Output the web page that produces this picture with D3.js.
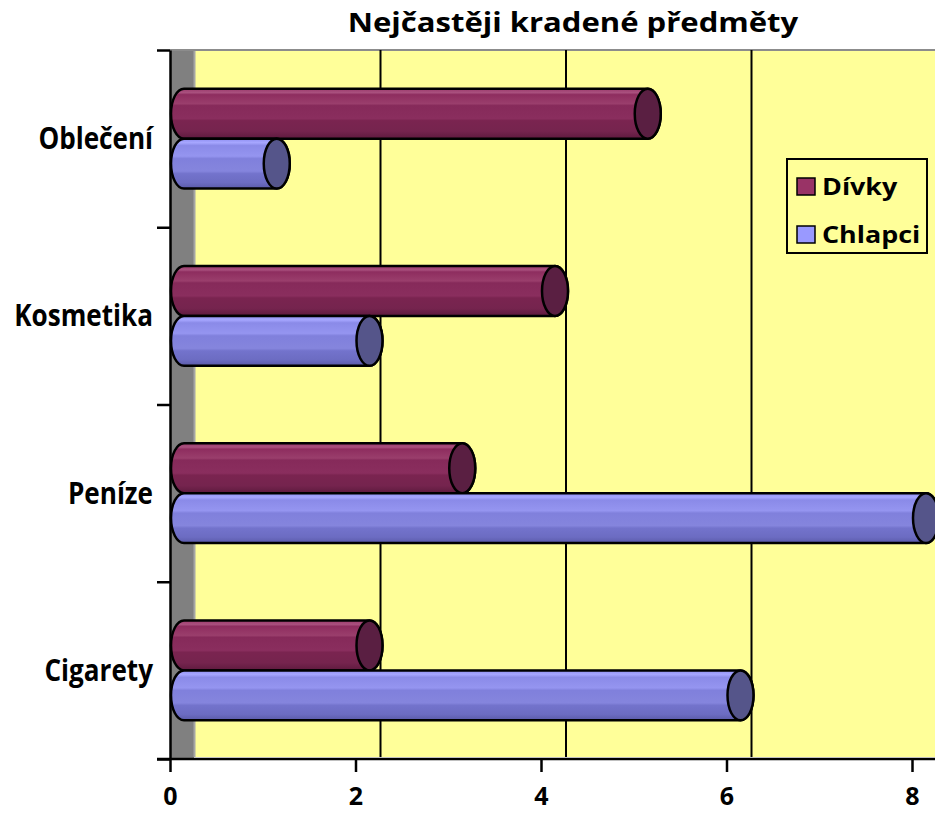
<!DOCTYPE html>
<html>
<head>
<meta charset="utf-8">
<script src="https://cdn.jsdelivr.net/npm/d3@7"></script>
<style>
  body { margin: 0; background: #fff; }
  svg { display: block; font-family: 'Open Sans', sans-serif; font-weight: bold; }
</style>
</head>
<body>
<svg></svg>
<script>
const width = 935;
const height = 814;

// data
const categories = ['Oblečení', 'Kosmetika', 'Peníze', 'Cigarety'];
const seriesNames = ['Dívky', 'Chlapci'];
const divky = [5, 4, 3, 2];
const chlapci = [1, 2, 8, 6];
const xTicks = [0, 2, 4, 6, 8];

const series = [divky, chlapci];
const svg = d3.select('svg').attr('width', width).attr('height', height);

const plotLeft = 170, plotRight = 912, plotTop = 50, plotBottom = 759;
const depth = 25;     // 3D offset of the back wall
const capOff = 14;    // bar axis sits half way into the depth
const rx = 13;

//Scales
var xScale = d3.scaleLinear().domain([0, 8]).range([plotLeft, plotRight]);
var yScale = d3.scaleBand().domain(categories).range([plotTop, plotBottom])
               .paddingInner(0.436).paddingOuter(0.218);
var ySub = d3.scaleBand().domain(seriesNames).range([0, yScale.bandwidth()]);
var yEdges = d3.scaleLinear().domain([0, categories.length]).range([plotTop, plotBottom]);

//Gradients for the cylinders
const defs = svg.append('defs');
function cylGrad(id, stops) {
  const g = defs.append('linearGradient').attr('id', id)
    .attr('x1', 0).attr('y1', 0).attr('x2', 0).attr('y2', 1);
  stops.forEach(s => g.append('stop').attr('offset', s[0]).attr('stop-color', s[1]));
}
cylGrad('gDivky', [[0, '#9b3a6c'], [0.08, '#a9507e'], [0.12, '#8e2d5f'], [0.3, '#9a3e6c'],
                   [0.34, '#862a5a'], [0.6, '#8a2e5e'], [0.64, '#7a2450'], [0.85, '#75244e'], [1, '#5e1a3e']]);
cylGrad('gChlapci', [[0, '#8f8ff0'], [0.08, '#a6a6ff'], [0.14, '#8a8ae8'], [0.35, '#9595f0'],
                     [0.4, '#8080dc'], [0.65, '#8585dd'], [0.7, '#7373cc'], [0.88, '#6c6cc2'], [1, '#5a5aa8']]);
const bodyFill = ['url(#gDivky)', 'url(#gChlapci)'];
const capFill = ['#5a1f42', '#55558a'];
const swatch = ['#993366', '#9999ff'];

//Walls
svg.append('rect').attr('x', plotLeft + depth).attr('y', plotTop)
   .attr('width', width - plotLeft - depth + 5).attr('height', plotBottom - plotTop - 2)
   .attr('fill', '#ffff99');
svg.append('rect').attr('x', plotLeft).attr('y', plotTop)
   .attr('width', depth - 1).attr('height', plotBottom - plotTop)
   .attr('fill', '#808080');
svg.append('line').attr('x1', plotLeft + depth - 0.5).attr('x2', plotLeft + depth - 0.5)
   .attr('y1', plotTop).attr('y2', plotBottom - 2).attr('stroke', '#a6a6a6').attr('stroke-width', 2);
svg.append('line').attr('x1', plotLeft).attr('x2', width).attr('y1', plotTop).attr('y2', plotTop)
   .attr('stroke', '#8c8c8c').attr('stroke-width', 2);

//Gridlines on back wall
svg.append('g').selectAll('line')
   .data(xTicks.filter(d => d > 0))
   .enter().append('line')
   .attr('x1', d => xScale(d) + depth).attr('x2', d => xScale(d) + depth)
   .attr('y1', plotTop).attr('y2', plotBottom - 2)
   .attr('stroke', '#000').attr('stroke-width', 2);

//Axes
var xAxis = d3.axisBottom(xScale).tickValues(xTicks).tickSize(13).tickSizeOuter(0).tickPadding(15);
var yAxis = d3.axisLeft(yEdges).ticks(categories.length).tickSize(13).tickSizeOuter(0).tickFormat('');

const gx = svg.append('g').attr('transform', `translate(0, ${plotBottom})`).call(xAxis);
gx.select('.domain').remove();
gx.selectAll('line').attr('stroke', '#000').attr('stroke-width', 2.5);
gx.selectAll('text').attr('fill', '#000').style('font-size', '25px').style('font-weight', 'bold')
  .style('font-family', "'Open Sans', sans-serif");
svg.append('line').attr('x1', plotLeft - 13).attr('x2', width).attr('y1', plotBottom).attr('y2', plotBottom)
   .attr('stroke', '#000').attr('stroke-width', 2.5);

const gy = svg.append('g').attr('transform', `translate(${plotLeft}, 0)`).call(yAxis);
gy.selectAll('line').attr('stroke', '#000').attr('stroke-width', 2.5);
gy.select('.domain').attr('stroke', '#000').attr('stroke-width', 2.5);

//Category labels (squeezed a little to get Calibri-like proportions)
svg.append('g').selectAll('text')
   .data(categories)
   .enter().append('text')
   .attr('transform', d => `translate(${plotLeft - 17}, ${yScale(d) + yScale.bandwidth() / 2}) scale(0.87, 1)`)
   .attr('dy', '0.35em')
   .attr('text-anchor', 'end')
   .style('font-size', '30px')
   .text(d => d);

//Cylinders
function cylinderPath(x0, x1, y0, h) {
  const ry = h / 2;
  return `M${x0},${y0} L${x1},${y0} A${rx},${ry} 0 0 1 ${x1},${y0 + h}` +
         ` L${x0},${y0 + h} A${rx},${ry} 0 0 1 ${x0},${y0} Z`;
}
const bars = [];
categories.forEach((c, i) => series.forEach((s, j) => bars.push({ c, j, v: s[i] })));

const gBars = svg.append('g');
const bar = gBars.selectAll('g').data(bars).enter().append('g');
bar.append('path')
   .attr('d', d => cylinderPath(xScale(0) + capOff, xScale(d.v) + capOff,
                                yScale(d.c) + ySub(seriesNames[d.j]), ySub.bandwidth()))
   .attr('fill', d => bodyFill[d.j])
   .attr('stroke', '#000').attr('stroke-width', 2.5);
bar.append('ellipse')
   .attr('cx', d => xScale(d.v) + capOff)
   .attr('cy', d => yScale(d.c) + ySub(seriesNames[d.j]) + ySub.bandwidth() / 2)
   .attr('rx', rx).attr('ry', ySub.bandwidth() / 2)
   .attr('fill', d => capFill[d.j])
   .attr('stroke', '#000').attr('stroke-width', 2.5);

//Legend
const legend = svg.append('g').attr('transform', 'translate(787, 159)');
legend.append('rect').attr('width', 140).attr('height', 94)
      .attr('fill', '#ffff99').attr('stroke', '#000').attr('stroke-width', 2);
seriesNames.forEach((name, j) => {
  legend.append('rect').attr('x', 10).attr('y', 19 + j * 48).attr('width', 18).attr('height', 17)
        .attr('fill', swatch[j]).attr('stroke', '#000').attr('stroke-width', 1.5);
  legend.append('text').attr('transform', `translate(35, ${36 + j * 48}) scale(1.12, 1)`)
        .style('font-size', '24px').text(name);
});

//Title
svg.append('text').attr('transform', 'translate(573, 32) scale(1.15, 1)')
   .attr('text-anchor', 'middle')
   .style('font-size', '27px')
   .text('Nejčastěji kradené předměty');
</script>
</body>
</html>
